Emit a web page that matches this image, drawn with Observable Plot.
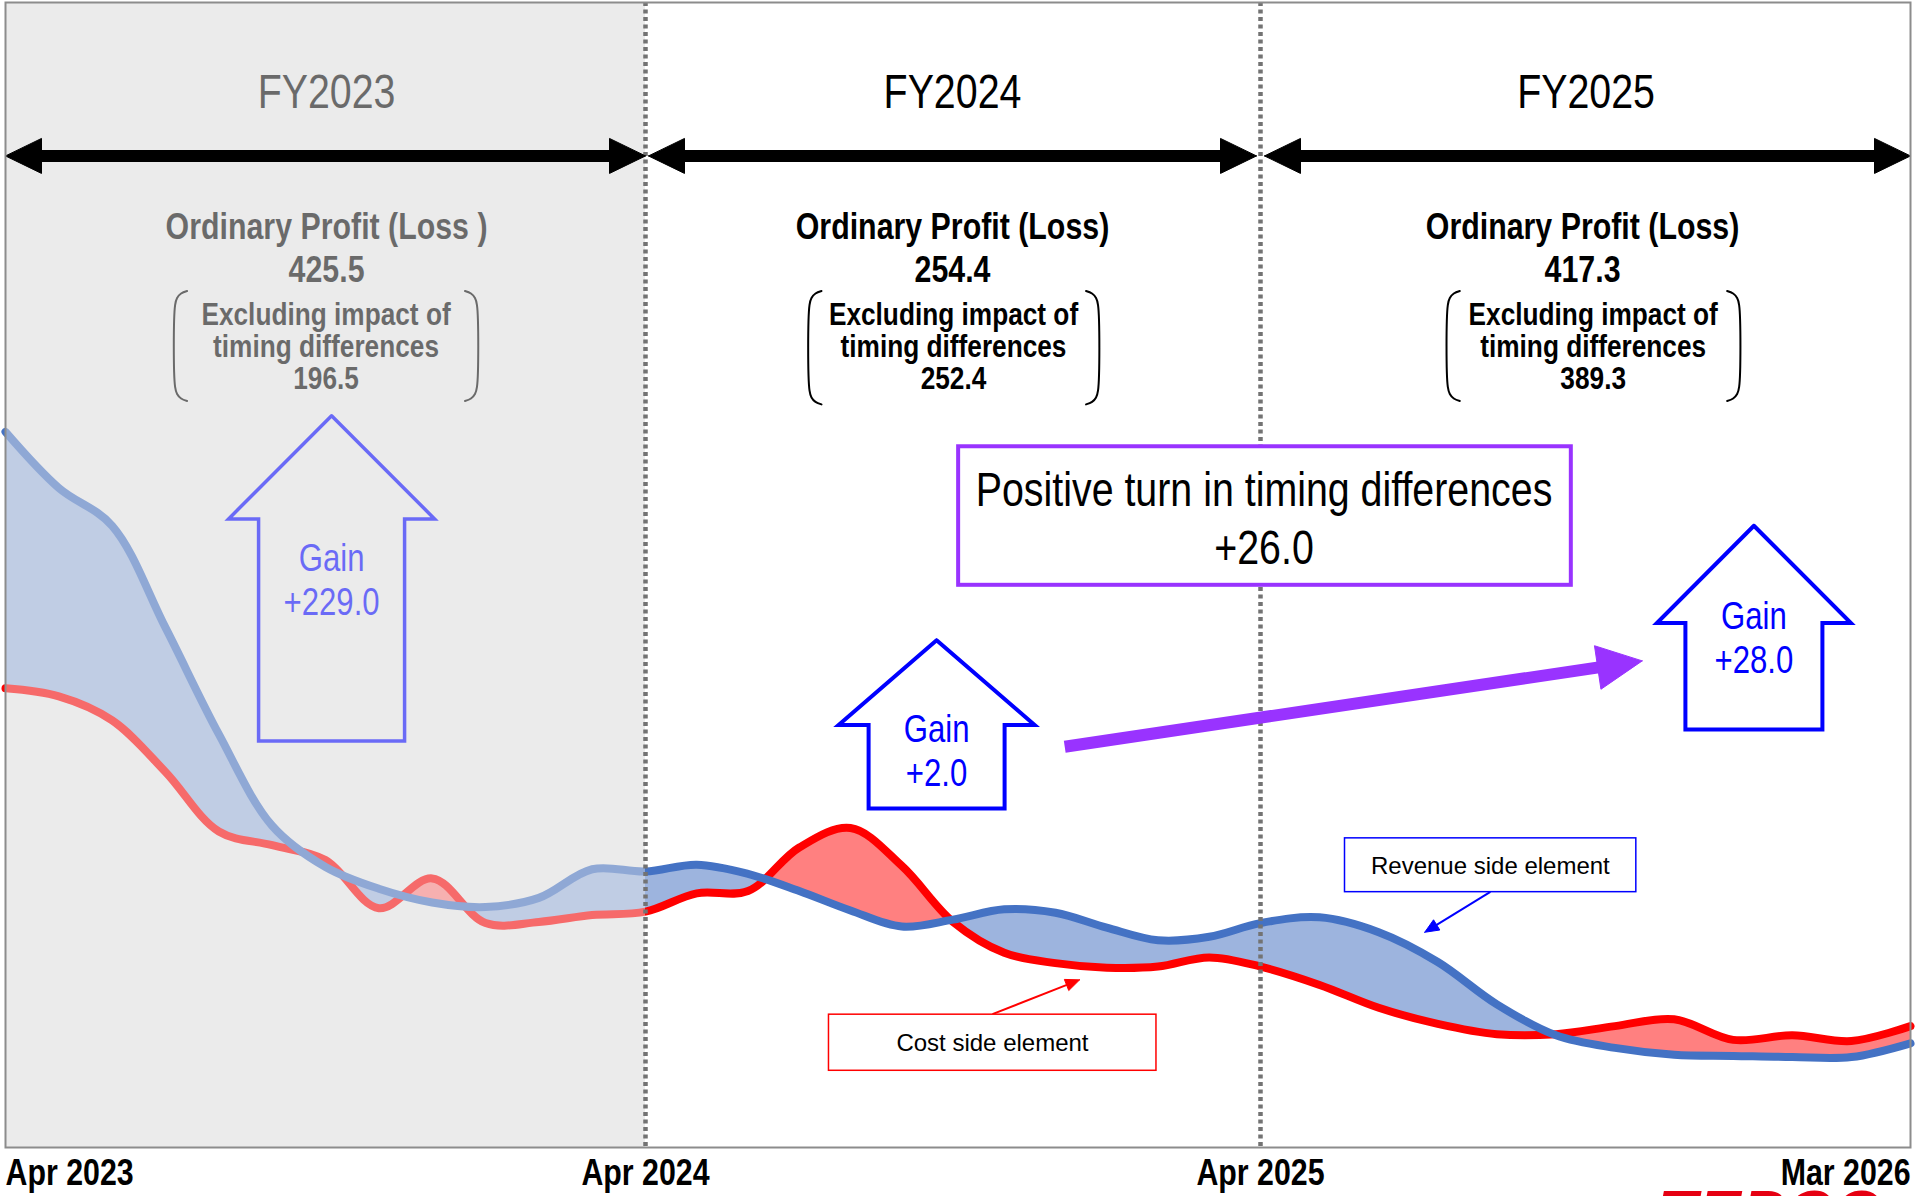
<!DOCTYPE html>
<html>
<head>
<meta charset="utf-8">
<script src="https://cdn.jsdelivr.net/npm/d3@7"></script>
<script src="https://cdn.jsdelivr.net/npm/@observablehq/plot@0.6"></script>
<style>
  html, body { margin: 0; padding: 0; background: #ffffff; overflow: hidden; width: 1917px; height: 1196px; }
  #chart { position: absolute; left: 0; top: 0; }
  #logo { position: absolute; left: 1658px; top: 1177px; line-height: 64px;
          font: italic bold 64px "Liberation Sans", Arial, sans-serif; color: #e60012; letter-spacing: 1px; }
</style>
</head>
<body>
<div id="chart"></div>
<div id="logo">TEPCO</div>
<script>
// ---------------- DATA ----------------
const monthIndex = [0,1,2,3,4,5,6,7,8,9,10,11,12,13,14,15,16,17,18,19,20,21,22,23,24,25,26,27,28,29,30,31,32,33,34,35];
// Revenue side element (blue line)
const revenueSide = [62.5,57.6,54.3,45.4,36.1,28.1,24.5,22.6,21.4,21.0,21.8,24.3,24.1,24.7,23.9,22.4,20.7,19.3,19.9,20.8,20.5,19.2,18.1,18.4,19.6,20.1,18.8,16.2,12.5,9.8,8.7,8.1,8.0,7.9,7.9,9.1];
// Cost side element (red line)
const costSide = [40.1,39.4,37.3,32.8,27.6,26.4,25.1,20.9,23.5,19.6,19.7,20.3,20.6,22.2,22.4,26.2,27.9,24.6,19.7,17.0,16.1,15.7,15.8,16.6,15.8,14.2,12.2,10.8,9.9,9.9,10.6,11.2,9.4,9.8,9.3,10.6];

const axisMonths = [0, 12, 24, 35];
const axisLabels = ["Apr 2023", "Apr 2024", "Apr 2025", "Mar 2026"];
const fiscalYears = ["FY2023", "FY2024", "FY2025"];
const fyStart = [0, 12, 24];
const fyEnd = [12, 24, 35];
const profitTitles = ["Ordinary Profit (Loss )", "Ordinary Profit (Loss)", "Ordinary Profit (Loss)"];
const ordinaryProfit = ["425.5", "254.4", "417.3"];
const excludingTiming = ["196.5", "252.4", "389.3"];
const gainValues = ["+229.0", "+2.0", "+28.0"];
const timingTurn = "+26.0";

// ---------------- SCALES ----------------
const X_DOMAIN = [0, 12, 24, 35];
const X_RANGE = [5, 645, 1260, 1910];
const Y_DOMAIN = [0, 100];
const Y_RANGE = [1147, 2];
const xS = Plot.scale({x: {type: "linear", domain: X_DOMAIN, range: X_RANGE}});
const yS = Plot.scale({y: {type: "linear", domain: Y_DOMAIN, range: Y_RANGE}});
const mx = (m, d) => xS.invert(xS.apply(m) + d);       // shift month by d pixels
const vy = (v, d) => yS.invert(yS.apply(v) - d);       // shift value up by d pixels

// "Narrow" marks get condensed horizontally after rendering (Arial Narrow look)
const NARROW = "'Liberation Sans Narrow', 'Liberation Sans', Arial, sans-serif";
const REG = "'Liberation Sans', Arial, sans-serif";
const CONDENSE = 0.82;

const series = monthIndex.map((m, i) => ({m, rev: revenueSide[i], cost: costSide[i]}));

// ---------------- HELPERS ----------------
function poly(points, opts) {
  const pts = points.concat([points[0]]);
  return Plot.line(pts, {x: d => d[0], y: d => d[1], curve: "linear", strokeLinejoin: "miter", strokeMiterlimit: 10, ...opts});
}
function arrowWithHead(x1, y1, x2, y2, len, half, color, width) {
  const p1 = [xS.apply(x1), yS.apply(y1)], p2 = [xS.apply(x2), yS.apply(y2)];
  const dx = p2[0] - p1[0], dy = p2[1] - p1[1], L = Math.hypot(dx, dy);
  const ux = dx / L, uy = dy / L;
  const b = [p2[0] - ux * len, p2[1] - uy * len];
  const c1 = [b[0] - uy * half, b[1] + ux * half], c2 = [b[0] + uy * half, b[1] - ux * half];
  const inv = p => [xS.invert(p[0]), yS.invert(p[1])];
  return [
    Plot.line([[x1, y1], inv([b[0] + ux * 1, b[1] + uy * 1])], {x: d => d[0], y: d => d[1], stroke: color, strokeWidth: width, strokeLinecap: "butt"}),
    poly([[x2, y2], inv(c1), inv(c2)], {fill: color, stroke: color, strokeWidth: 1})
  ];
}
function doubleArrow(a, b, v) {
  const L = 36, H = 17.5;
  return [
    Plot.line([[mx(a, L - 1), v], [mx(b, -L + 1), v]], {x: d => d[0], y: d => d[1], stroke: "black", strokeWidth: 12, strokeLinecap: "butt"}),
    poly([[a, v], [mx(a, L), vy(v, H)], [mx(a, L), vy(v, -H)]], {fill: "black", stroke: "black", strokeWidth: 1}),
    poly([[b, v], [mx(b, -L), vy(v, H)], [mx(b, -L), vy(v, -H)]], {fill: "black", stroke: "black", strokeWidth: 1})
  ];
}
function blockArrow(cx, tip, base, bottom, headHalf, shaftHalf, color, sw) {
  return poly([
    [cx, tip], [mx(cx, headHalf), base], [mx(cx, shaftHalf), base], [mx(cx, shaftHalf), bottom],
    [mx(cx, -shaftHalf), bottom], [mx(cx, -shaftHalf), base], [mx(cx, -headHalf), base]
  ], {fill: "none", stroke: color, strokeWidth: sw});
}
function bracketPair(left, right, top, bottom) {
  const h = yS.apply(bottom) - yS.apply(top);
  const hook = 12;
  const offs = [[hook, 0], [6, 2.5], [2, 7], [0, 14], [0, h - 14], [2, h - 7], [6, h - 2.5], [hook, h]];
  const conv = (x, s) => offs.map(([ox, oy]) => [mx(x, s * ox), vy(top, -oy)]);
  const style = {x: d => d[0], y: d => d[1], stroke: "black", strokeWidth: 2, curve: "catmull-rom"};
  return [Plot.line(conv(left, 1), style), Plot.line(conv(right, -1), style)];
}

// ---------------- ANNOTATION LAYOUT ----------------
const fyTitleX = [6.02, 17.99, 29.51];
const fyProfitX = [6.02, 17.99, 29.45];
const fyBracketX = [6.01, 18.01, 29.63];
const brackets = [[3.18, 8.84, 74.8, 65.2], [15.20, 20.83, 74.8, 64.9], [27.17, 32.10, 74.8, 65.2]];
const gainArrows = [
  {cx: 6.114, tip: 63.9, base: 54.9, bottom: 35.5, head: 103, shaft: 73, sw: 3.5, tv: 49.7},
  {cx: 17.68, tip: 44.3, base: 36.9, bottom: 29.6, head: 98, shaft: 68, sw: 4, tv: 34.7},
  {cx: 32.35, tip: 54.3, base: 45.8, bottom: 36.5, head: 97, shaft: 68.5, sw: 4, tv: 44.6}
];
const arrowInset = [[0, 0], [3, 4], [4, 0]];

const fyRows = fiscalYears.map((fy, i) => ({
  fy, title: profitTitles[i], op: ordinaryProfit[i], ex: excludingTiming[i],
  tx: fyTitleX[i], px: fyProfitX[i], bx: fyBracketX[i]
}));
const gainRows = gainValues.map((g, i) => ({g, ...gainArrows[i]}));
const axisRows = axisMonths.map((m, i) => ({m, label: axisLabels[i], anchor: i === 0 ? "start" : i === 3 ? "end" : "middle"}));

// ---------------- MARKS ----------------
const marks = [];
marks.push(Plot.rect([{a: fyStart[0], b: fyEnd[0]}], {x1: "a", x2: "b", y1: () => Y_DOMAIN[0], y2: () => Y_DOMAIN[1], fill: "#ececec"}));

const POS = "#9db4de", NEG = "#ff8080";
if (typeof Plot.differenceY === "function") {
  marks.push(Plot.differenceY(series, {x: "m", y1: "cost", y2: "rev", positiveFill: POS, negativeFill: NEG, fillOpacity: 1, curve: "catmull-rom", stroke: "none"}));
} else {
  marks.push(Plot.areaY(series, {x: "m", y1: "cost", y2: d => Math.max(d.rev, d.cost), fill: POS, curve: "catmull-rom"}));
  marks.push(Plot.areaY(series, {x: "m", y1: "rev", y2: d => Math.max(d.rev, d.cost), fill: NEG, curve: "catmull-rom"}));
}
marks.push(Plot.line(series, {x: "m", y: "cost", stroke: "#ff0000", strokeWidth: 8, curve: "catmull-rom"}));
marks.push(Plot.line(series, {x: "m", y: "rev", stroke: "#4472c4", strokeWidth: 8, curve: "catmull-rom"}));

// headings and profit texts
marks.push(Plot.text(fyRows, {x: "tx", y: () => 92.1, text: "fy", fontSize: 48, fontFamily: NARROW, fill: "black"}));
marks.push(Plot.text(fyRows, {x: "px", y: () => 78.7, text: d => d.title + "\n" + d.op, fontSize: 37, fontWeight: "bold", lineHeight: 1.16, fontFamily: NARROW, fill: "black"}));
marks.push(Plot.text(fyRows, {x: "bx", y: () => 69.9, text: d => "Excluding impact of\ntiming differences\n" + d.ex, fontSize: 32, fontWeight: "bold", lineHeight: 1.0, fontFamily: NARROW, fill: "black"}));
brackets.forEach(b => marks.push(...bracketPair(...b)));

// gain block arrows
gainRows.forEach(g => marks.push(blockArrow(g.cx, g.tip, g.base, g.bottom, g.head, g.shaft, "#0000ff", g.sw)));
marks.push(Plot.text(gainRows, {x: "cx", y: "tv", text: d => "Gain\n" + d.g, fontSize: 38, lineHeight: 1.16, fontFamily: NARROW, fill: "#0000ff"}));

// FY2023 fade overlay
marks.push(Plot.rect([{a: fyStart[0], b: fyEnd[0]}], {x1: "a", x2: "b", y1: () => Y_DOMAIN[0], y2: () => Y_DOMAIN[1], fill: "#ececec", fillOpacity: 0.45}));

// fiscal-year boundaries
marks.push(Plot.ruleX([fyStart[1], fyStart[2]], {stroke: "#737373", strokeWidth: 4.5, strokeDasharray: "4,3.5"}));

// double arrows
fiscalYears.forEach((fy, i) => marks.push(...doubleArrow(mx(fyStart[i], arrowInset[i][0]), mx(fyEnd[i], -arrowInset[i][1]), 86.6)));

// purple callout
marks.push(...arrowWithHead(20.18, 35.0, 30.46, 42.5, 45, 22, "#9933ff", 12));
marks.push(Plot.rect([timingTurn], {x1: () => 18.11, x2: () => 29.26, y1: () => 49.1, y2: () => 61.2, fill: "white", stroke: "#9933ff", strokeWidth: 4}));
marks.push(Plot.text([timingTurn], {x: () => 24.06, y: () => 55.1, text: d => "Positive turn in timing differences\n" + d, fontSize: 48, lineHeight: 1.2, fontFamily: NARROW, fill: "black"}));

// element labels
marks.push(...arrowWithHead(18.77, 11.65, 20.47, 14.64, 14, 6, "#ff0000", 2));
marks.push(Plot.rect(["Cost side element"], {x1: () => 15.58, x2: () => 21.97, y1: () => 6.7, y2: () => 11.6, fill: "white", stroke: "#ff0000", strokeWidth: 1.5}));
marks.push(Plot.text(["Cost side element"], {x: () => 18.77, y: () => 9.1, text: d => d, fontSize: 24, fontFamily: REG, fill: "black"}));
marks.push(...arrowWithHead(27.89, 22.33, 26.78, 18.80, 14, 6, "#0000ff", 2));
marks.push(Plot.rect(["Revenue side element"], {x1: () => 25.43, x2: () => 30.36, y1: () => 22.3, y2: () => 27.0, fill: "white", stroke: "#0000ff", strokeWidth: 1.5}));
marks.push(Plot.text(["Revenue side element"], {x: () => 27.89, y: () => 24.6, text: d => d, fontSize: 24, fontFamily: REG, fill: "black"}));

// frame and axis labels
marks.push(Plot.frame({stroke: "#8c8c8c", strokeWidth: 2}));
["start", "middle", "end"].forEach(a => marks.push(Plot.text(axisRows.filter(d => d.anchor === a), {
  x: "m", text: "label", frameAnchor: "bottom", dy: 37, textAnchor: a,
  fontSize: 37, fontWeight: "bold", fontFamily: NARROW, fill: "black"
})));

const chart = Plot.plot({
  width: 1917, height: 1196,
  marginLeft: 5, marginRight: 7, marginTop: 2, marginBottom: 49,
  x: {type: "linear", domain: X_DOMAIN, range: X_RANGE, axis: null},
  y: {type: "linear", domain: Y_DOMAIN, range: Y_RANGE, axis: null},
  style: {background: "white", overflow: "visible"},
  marks
});
// condense the "narrow" texts horizontally around their anchor
chart.querySelectorAll('g[font-family*="Narrow"] text').forEach(t => {
  const tr = t.getAttribute("transform") || "";
  t.setAttribute("transform", tr + ` scale(${CONDENSE},1)`);
});
document.getElementById("chart").appendChild(chart);
</script>
</body>
</html>
